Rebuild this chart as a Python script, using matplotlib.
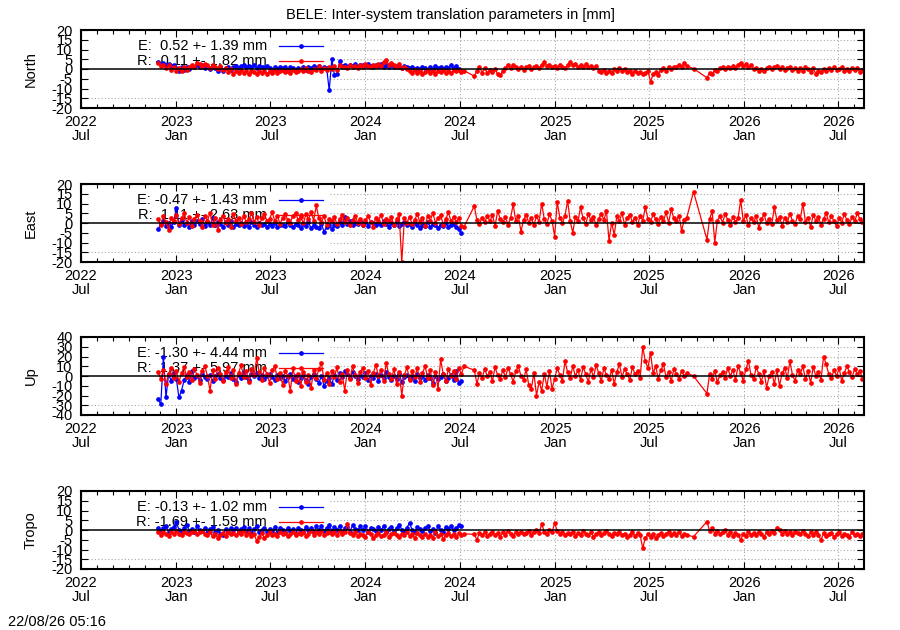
import numpy as np
import matplotlib
matplotlib.use("Agg")
import matplotlib.pyplot as plt
import matplotlib.dates as mdates

plt.rcParams['font.family'] = ['Liberation Sans', 'DejaVu Sans']
plt.rcParams['font.size'] = 10.5
plt.rcParams['axes.unicode_minus'] = False

# sampling step of the series (days)
STEP = 5
e_start = "2022-11-27"
# red series: continuous blocks, then a lone point and the last block
r_starts = ["2022-11-27", "2024-07-29", "2025-09-25", "2025-10-21"]

panel_names = ["North", "East", "Up", "Tropo"]
e_stats = ["E:  0.52 +- 1.39 mm", "E: -0.47 +- 1.43 mm", "E: -1.30 +- 4.44 mm", "E: -0.13 +- 1.02 mm"]
r_stats = ["R: -0.11 +- 1.82 mm", "R:  1.11 +- 2.63 mm", "R:  1.37 +- 5.97 mm", "R: -1.69 +- 1.59 mm"]
y_limits = [20, 20, 40, 20]
y_steps = [5, 5, 10, 5]

tick_dates = ["2022-07-01", "2023-01-01", "2023-07-01", "2024-01-01", "2024-07-01",
              "2025-01-01", "2025-07-01", "2026-01-01", "2026-07-01"]
tick_labels = ["2022\nJul", "2023\nJan", "2023\nJul", "2024\nJan", "2024\nJul",
               "2025\nJan", "2025\nJul", "2026\nJan", "2026\nJul"]
x_range = ["2022-07-01", "2026-08-20"]

north_e = [
    3.5, 2.5, 3.0, 2.0, 2.8, 1.5, 2.2, 0.5, -1.2, 0.8, -0.5, 1.0,
    0.2, 1.5, 0.8, 1.8, 1.2, 2.0, 0.6, 1.4, 0.2, 1.0, 0.5, -0.8,
    0.9, -1.0, 0.3, 1.2, -0.5, 0.8, 1.5, 0.7, 1.3, 1.8, 0.9, 1.6,
    1.1, 1.9, 0.6, 1.4, 1.0, 0.8, 1.5, 0.4, -1.6, 0.9, 0.2, 1.1,
    0.5, 0.8, -0.3, 1.0, 0.3, -0.6, 0.7, 0.1, 1.2, -0.4, 0.9, 0.4,
    1.3, 0.6, 1.5, 0.2, 1.0, 0.7, -11.0, 5.0, -3.0, -2.6, 4.0, 1.5,
    2.2, 1.0, 2.0, 1.4, 2.5, 0.8, 1.8, 2.2, 1.3, 2.8, 1.6, 0.9,
    2.0, 1.5, 2.4, 1.0, 1.8, 1.2, 2.6, 0.8, 1.6, 1.1, 0.5, 1.4,
    0.9, 0.3, 1.0, -0.2, 0.6, 0.2, 1.1, 0.5, -0.4, 0.8, 0.1, 1.5,
    0.4, 0.9, 0.2, 1.2, 0.6, 1.8, 0.3, 1.6, 0.2, -0.8,
]
north_r = [
    [3.0, 1.5, 2.2, 0.5, 1.8, -0.5, 1.2, -0.8, 0.5, -1.2, 0.8, -0.3,
     1.0, 2.0, 1.2, 3.2, 2.5, 1.0, 2.8, 1.8, 0.5, 2.2, 1.0, 0.2,
     1.5, -0.5, 0.3, -1.5, -0.2, -2.5, -0.8, -1.8, -0.6, -2.2, -1.2, -2.8,
     -1.0, -1.5, -2.5, -0.8, -2.0, -1.2, -2.6, -1.0, -1.8, -0.5, -2.0, -1.2,
     -0.6, -1.6, -0.8, -2.2, -0.4, -1.4, -0.9, -0.2, -1.2, 0.4, -0.8, -1.6,
     0.2, -0.5, 1.5, -0.8, 0.6, -0.3, 1.0, 0.2, 1.4, -0.4, 1.8, 0.8,
     1.2, 0.6, 2.0, 1.0, 1.6, 0.4, 2.2, 1.2, 2.6, 1.5, 0.8, 2.0,
     1.4, 2.8, 1.6, 3.5, 4.5, 2.2, 3.0, 1.8, 1.0, 2.4, 0.6, 1.2,
     0.2, -0.8, -1.8, -0.4, -2.2, -1.0, -2.6, -1.5, -0.6, -2.0, -1.2, -2.4,
     -0.9, -1.6, -0.4, -2.2, -1.0, -1.8, -0.6, -1.2, -0.3, -1.6, -0.8],
    [-3.7, -1.0, 0.8, -1.8, 0.5, -2.2, -0.6, -1.5, 0.2, -2.8, -3.2, -1.0,
     0.4, 1.8, 0.6, 2.2, 1.0, 0.2, 1.2, -0.3, 0.8, 1.5, 0.0, 1.0,
     1.6, 0.6, 2.2, 3.6, 1.4, 2.0, 0.8, 1.6, 0.4, 2.0, 1.2, 0.6,
     2.2, 3.6, 1.8, 2.6, 1.0, 2.0, 1.2, 2.4, 0.8, 1.6, 0.6, 1.4,
     -0.8, -1.6, -0.4, -2.0, -1.0, -1.8, -0.2, -1.2, 0.4, -0.8, 0.2, -1.4,
     -1.2, -2.4, -0.8, -2.0, -1.5, -2.6, -2.0, -1.0, -6.5, -2.8, -1.6, -3.0,
     -0.4, 0.6, -0.8, 1.0, 0.2, 1.2, 0.8, 2.0, 1.2, 3.0, 1.6],
    [0.2],
    [-4.5, -1.8, -2.6, -0.6, -1.2, 0.4, 0.8, -0.2, 1.2, 0.4, 1.6, 0.6,
     2.2, 3.3, 1.6, 2.6, 0.8, 1.8, -0.2, 0.6, -0.8, 0.2, -1.0, 0.4,
     1.0, -0.2, 0.8, 1.4, 0.2, 0.9, -0.6, 0.4, 1.2, -0.4, 0.6, -1.0,
     0.3, -0.8, 1.0, -0.2, -1.4, 0.5, -2.5, -0.8, -1.6, -0.2, -1.2, 0.4,
     -0.6, 0.8, -0.4, 0.2, 1.0, -0.8, 0.0, -1.2, 0.4, -0.6, 0.6, -1.4,
     -0.5],
]

east_e = [
    -3.0, -0.5, 1.0, -1.5, 0.2, -2.0, 0.5, 7.5, -0.8, 1.5, -1.2, 0.0,
    -2.0, 0.8, -1.0, 1.2, -0.5, 2.0, -1.5, 0.5, -0.8, 2.5, -1.2, 0.3,
    -0.6, -1.8, 0.4, -1.0, 0.8, -2.2, -0.3, -1.2, 0.2, -1.6, -0.4, -2.0,
    0.6, -0.8, -1.8, 0.0, -1.2, -0.6, -2.0, -0.5, -1.4, 0.2, -2.2, -0.8,
    -1.0, -1.6, 0.3, -1.0, -2.0, -0.4, -1.2, -2.4, -0.6, -1.5, 0.4, -2.8,
    -1.0, -1.8, -2.6, -0.5, -4.5, -2.0, -1.2, -3.0, -0.8, -1.6, 0.5, -1.0,
    3.0, -0.4, 0.8, -1.2, 0.2, -0.6, 1.0, -0.8, 0.4, -1.4, 0.6, -0.2,
    -1.0, 0.2, -1.2, 0.8, -0.6, -1.8, 0.0, -1.0, 0.6, -1.6, -0.4, 0.4,
    -1.2, -0.6, -2.0, 0.2, -1.0, -2.4, -0.8, -1.4, 0.4, -2.2, -0.6, -1.0,
    -2.6, -0.8, -1.6, 0.0, -2.0, -1.2, -0.4, -2.2, -3.0, -5.3,
]
east_r = [
    [2.0, -1.0, 3.5, 0.5, -3.5, 2.8, 1.0, 4.0, -0.5, 2.5, 5.0, 0.2,
     3.0, -1.5, 2.2, 4.2, 0.8, -2.0, 3.5, 1.2, 5.2, -0.8, 2.6, -3.5,
     1.5, 3.8, 0.0, 2.0, -1.8, 4.5, 1.0, 2.8, -0.6, 3.6, 0.4, 1.8,
     5.0, 0.6, 3.2, -1.0, 2.4, 4.8, 0.8, 2.2, 5.5, 1.0, 3.4, -0.4,
     2.6, 4.6, 1.4, 0.2, 3.8, 5.2, 1.6, 3.0, -0.2, 4.4, 2.0, 5.6,
     1.2, 9.0, 2.4, 0.6, 3.6, -1.2, 2.0, 0.8, 3.2, -0.6, 1.8, 4.0,
     0.4, 2.6, -0.8, 1.4, 3.8, 0.2, 2.2, -1.0, 1.6, 3.4, 0.6, -1.8,
     2.8, 1.0, 4.2, -0.4, 2.0, 0.8, 3.0, -1.2, 1.8, 4.4, -20.0, 2.4,
     0.2, 3.2, -0.6, 1.6, 4.6, 0.4, 2.8, -1.4, 3.6, 1.2, 5.2, 0.0,
     2.4, 4.0, -0.8, 2.2, 5.4, 1.0, 3.0, 0.6, 2.6, -1.6, -2.0],
    [8.7, 1.5, -0.5, 2.8, 0.4, 3.5, 1.0, 4.0, -1.5, 6.0, 2.2, 0.5,
     3.0, -0.8, 2.5, 9.6, 1.0, 3.8, -4.5, 1.6, 4.2, 0.2, 2.6, -1.0,
     3.4, 0.6, 10.0, 2.0, -0.5, 4.4, 1.2, -7.0, 11.0, 2.8, 0.0, 3.6,
     11.5, 1.0, -5.0, 3.2, 0.8, 8.0, 2.4, -0.6, 4.6, 1.4, 3.0, -1.2,
     2.0, 4.8, 1.6, 6.0, -9.0, 0.2, -6.0, 3.4, 1.0, 5.0, -0.8, 2.6,
     4.2, 0.6, 2.8, -1.0, 3.6, 1.2, 8.0, 2.2, 0.4, 4.6, 1.8, -0.4,
     3.2, 1.0, 5.4, 0.2, 7.0, 2.4, 0.8, 3.8, -4.0, 1.6, 2.8],
    [16.0],
    [-8.5, 2.0, 6.0, -10.0, 1.2, 3.4, 0.2, 4.6, 1.6, -0.8, 3.0, 0.6,
     2.4, 12.0, 1.0, 4.0, -1.2, 2.6, 0.4, 3.6, -2.4, 1.8, 4.4, 0.0,
     2.2, -0.6, 8.0, 1.4, 3.2, -1.6, 2.8, 0.4, 4.8, 1.0, -0.4, 3.6,
     1.8, 10.0, 0.6, 2.6, -2.0, 4.2, 1.2, 3.0, -0.8, 2.2, 5.0, 0.4,
     3.4, 1.0, -1.6, 2.8, 0.2, 4.6, 1.6, -0.6, 3.2, 0.8, 5.0, 2.0,
     0.6],
]

up_e = [
    -24.0, -29.0, 20.0, -22.0, 2.0, -5.0, 3.0, -3.0, -22.0, -15.0, -4.0, 1.0,
    -6.0, 5.0, -2.0, 0.5, -4.5, 2.0, -1.0, -3.5, 1.5, -5.0, -0.5, 2.5,
    -2.0, -4.0, 0.0, -1.5, 3.0, -3.0, -6.0, 1.0, -2.5, 4.0, -1.0, -4.5,
    2.0, -0.5, 3.5, -2.0, 1.0, -3.5, 0.5, 2.5, -1.5, -4.0, 1.5, -2.5,
    0.0, -5.0, -1.0, 2.0, -3.0, 0.5, -6.5, -2.0, 1.0, -4.5, -8.0, -1.5,
    2.5, -3.5, -7.0, 0.0, -10.0, -5.0, -2.0, -8.5, 1.0, -4.0, 3.0, -1.0,
    5.0, 2.0, -2.5, 4.5, 0.0, -3.0, 1.5, -1.5, 3.0, -4.0, 0.5, -2.0,
    2.5, -5.0, 1.0, -2.5, 4.0, -1.0, -4.5, 0.5, -3.0, 2.0, -6.0, -1.5,
    1.0, -3.5, -0.5, -5.5, 2.0, -2.0, 0.0, -4.0, 1.5, -2.5, -7.0, 0.5,
    -3.0, -1.0, 2.5, -5.0, -2.0, 1.0, -4.0, 5.0, -7.0, -5.0,
]
up_r = [
    [4.0, -3.0, 6.0, -8.0, 2.0, 8.0, -2.0, 5.0, -6.0, 3.0, 9.0, -1.0,
     4.0, -4.0, 7.0, 1.0, -7.0, 5.0, 10.0, 0.0, -15.0, 6.0, -3.0, 8.0,
     2.0, -5.0, 4.0, 9.0, -2.0, 6.0, -8.0, 3.0, 11.0, -1.0, 5.0, -6.0,
     7.0, 1.0, 18.0, 4.0, -4.0, 8.0, 2.0, -7.0, 6.0, 10.0, -3.0, 3.0,
     -9.0, 5.0, 0.0, -15.0, 8.0, -5.0, 2.0, -10.0, 4.0, -6.0, 1.0, -12.0,
     6.0, -2.0, 7.0, 13.0, -4.0, 3.0, -8.0, 5.0, -1.0, 9.0, -6.0, 2.0,
     -15.0, 6.0, -3.0, 10.0, 1.0, -7.0, 4.0, 8.0, -2.0, 5.0, -9.0, 3.0,
     11.0, 0.0, 6.0, -5.0, 13.0, 2.0, -3.0, 7.0, -8.0, 4.0, -20.0, 1.0,
     9.0, -4.0, 5.0, -1.0, 8.0, -6.0, 3.0, 10.0, -2.0, 6.0, -9.0, 4.0,
     -13.0, 17.0, 2.0, -5.0, 7.0, 0.0, 5.0, -3.0, 8.0, 2.0, 10.0],
    [6.0, -8.0, 3.0, -2.0, 7.0, 0.0, 4.0, -5.0, 9.0, 1.0, -3.0, 6.0,
     -1.0, 8.0, 2.0, -6.0, 5.0, 10.0, 0.0, -4.0, 7.0, -9.0, -13.0, 3.0,
     -20.0, -6.0, -15.0, 2.0, -11.0, 5.0, -13.0, -3.0, 8.0, 1.0, -5.0, 15.0,
     4.0, -2.0, 10.0, 0.0, 6.0, -4.0, 9.0, 2.0, -6.0, 7.0, -1.0, 11.0,
     3.0, -5.0, 8.0, 1.0, -3.0, 6.0, -8.0, 4.0, 12.0, -1.0, 7.0, 2.0,
     -4.0, 9.0, 2.0, 5.0, -2.0, 30.0, 15.0, 8.0, 24.0, 3.0, 10.0, -3.0,
     6.0, 12.0, -1.0, 4.0, -5.0, 7.0, 2.0, -3.0, 5.0, 0.0, 3.0],
    [0.0],
    [-18.0, 2.0, -3.0, 5.0, -6.0, 1.0, 4.0, -2.0, 8.0, 0.0, 6.0, -4.0,
     10.0, 3.0, -5.0, 7.0, 15.0, 1.0, -3.0, 9.0, 2.0, -6.0, 5.0, -12.0,
     0.0, 4.0, -8.0, 6.0, -10.0, 3.0, 8.0, -2.0, 15.0, 1.0, -5.0, 6.0,
     2.0, 10.0, -3.0, 5.0, -7.0, 9.0, 0.0, 4.0, -4.0, 20.0, 12.0, 2.0,
     -2.0, 6.0, 0.0, 8.0, -5.0, 3.0, 10.0, 4.0, -1.0, 7.0, 2.0, 5.0,
     -3.0],
]

tropo_e = [
    1.0, -0.5, 0.8, 2.0, -1.0, 0.5, 1.5, 4.0, 0.2, -0.8, 1.2, 2.5,
    -0.4, 0.6, -1.2, 1.8, 0.0, -0.6, 1.0, -1.5, 0.4, 1.4, -0.8, 0.2,
    -2.0, -2.5, 0.5, -1.0, 1.2, -0.2, 0.8, -1.2, 0.3, 1.6, -0.6, 0.9,
    -1.4, 0.6, 2.0, -0.8, 0.2, 1.0, -1.0, 0.4, -0.6, 1.4, -1.6, 0.8,
    0.0, -1.0, 1.2, -0.4, 0.6, -1.8, 1.0, 0.2, -1.2, 1.6, -0.2, 0.8,
    -1.0, 1.8, 0.0, 2.2, -0.6, 1.0, 2.6, -0.4, 1.4, 0.2, 2.0, -1.0,
    0.8, 1.6, -0.8, 2.4, 0.4, -0.2, 1.8, 0.0, 2.2, -1.0, 1.0, 0.4,
    -0.6, 1.4, -0.2, 2.0, -1.2, 0.6, 1.6, -0.4, 0.8, 2.6, 0.2, -0.8,
    1.2, 3.7, 0.0, -1.0, 1.4, 0.4, -0.6, 1.0, 2.2, -0.4, 0.6, -1.4,
    1.8, 0.2, -0.8, 1.6, 0.4, 2.0, -0.2, 1.0, 2.4, 2.0,
]
tropo_r = [
    [-1.0, -2.8, -0.8, -2.0, -3.0, -1.2, -2.2, -0.6, -1.8, -2.6, -0.8, -1.4,
     -2.2, -1.0, -0.4, -2.0, -1.2, -0.6, -1.8, -2.4, -1.0, -3.2, -2.0, -4.0,
     -2.6, -1.4, -3.0, -0.8, -2.2, -1.6, -2.8, -1.2, -2.0, -0.6, -2.6, -1.4,
     -3.0, -2.0, -5.6, -3.4, -1.6, -4.2, -2.4, -1.0, -2.8, -1.8, -3.2, -0.8,
     -2.2, -1.6, -3.0, -2.0, -0.8, -2.6, -1.4, -2.2, -1.0, -3.0, -1.8, -0.6,
     -2.4, -1.2, -2.0, -0.4, -2.6, -1.6, -0.8, -2.2, -1.0, -2.8, -0.6, -1.8,
     -1.2, 3.0, -1.6, -2.4, -0.8, -3.0, -1.8, -2.6, -3.4, -1.2, -2.2, -4.0,
     -2.8, -1.6, -3.2, -2.4, -0.8, -3.6, -2.0, -1.4, -2.8, -3.8, -1.8, -2.6,
     -1.0, -3.0, -2.2, -4.2, -1.6, -2.8, -3.4, -1.8, -3.6, -2.4, -4.0, -1.2,
     -3.0, -2.0, -4.4, -2.6, -1.4, -3.2, -2.2, -3.8, -1.6, -2.6, -2.0],
    [-2.2, -5.0, -1.4, -2.8, -1.0, -3.2, -2.0, -0.8, -2.6, -1.6, -3.4, -1.2,
     -2.4, -0.6, -1.8, -3.0, -1.2, -2.2, -0.8, -2.0, -1.4, -0.4, -2.6, -1.0,
     0.2, -1.6, 3.0, -0.8, -1.8, -0.2, -1.2, 3.7, -0.6, -2.0, -1.0, -2.6,
     -1.4, -2.2, -0.8, -3.0, -1.6, -2.4, -0.6, -1.8, -2.8, -1.2, -3.4, -2.0,
     -1.0, -2.6, -1.6, -0.4, -2.2, -3.2, -1.4, -2.0, -0.8, -2.8, -1.8, -3.6,
     -2.4, -1.2, -3.0, -1.6, -2.6, -9.4, -4.0, -2.2, -3.4, -1.8, -4.2, -2.6,
     -1.6, -3.0, -2.0, -0.8, -2.8, -1.4, -2.4, -1.0, -3.2, -1.8, -2.6],
    [-3.4],
    [4.3, -0.6, 1.0, -1.8, -0.4, -2.2, -1.0, 0.0, -2.4, -1.2, -3.0, -1.6,
     -2.6, -5.0, -1.8, -3.2, -1.0, -2.4, -1.4, -2.8, -0.8, -2.0, -3.4, -1.2,
     -2.2, -0.6, -1.6, 1.0, -0.2, -1.8, -0.4, -2.0, -1.0, -2.6, -0.8, -1.4,
     -2.2, -0.6, -1.8, -3.0, -1.2, -2.4, -1.0, -2.8, -5.0, -1.6, -3.2, -2.0,
     -1.4, -3.6, -2.2, -1.0, -3.0, -1.8, -2.6, -3.4, -1.2, -2.8, -2.0, -3.0,
     -2.2],
]

e_series = [north_e, east_e, up_e, tropo_e]
r_series = [north_r, east_r, up_r, tropo_r]


def make_dates(start, n):
    d = np.datetime64(start) + np.arange(n) * np.timedelta64(STEP, 'D')
    return mdates.date2num(d)


W, H = 900, 630
fig = plt.figure(figsize=(W / 100, H / 100), dpi=100)
tops = [30, 184, 337, 491]
ax_left, ax_w, ax_h = 81, 783, 78

xmin, xmax = mdates.date2num(np.array(x_range, dtype='datetime64[D]'))
major = mdates.date2num(np.array(tick_dates, dtype='datetime64[D]'))
key_right = 0.318   # the key area hides the grid left of this
key_bottom = 0.18
ms = 3.4

for i, name in enumerate(panel_names):
    top = tops[i]
    ax = fig.add_axes([ax_left / W, 1 - (top + ax_h) / H, ax_w / W, ax_h / H])
    lim = y_limits[i]
    ax.set_xlim(xmin, xmax)
    ax.set_ylim(-lim, lim)

    # grid, by hand so the key area stays clear
    for d in major:
        if (d - xmin) / (xmax - xmin) > key_right:
            ax.axvline(d, color='#a8a8a8', lw=0.8, ls=(0, (1, 2)), zorder=0.5)
    levels = np.arange(-lim + y_steps[i], lim, y_steps[i])
    for lv in levels:
        if lv == 0:
            continue
        frac = (lv + lim) / (2 * lim)
        x0 = key_right if frac > key_bottom else 0
        ax.axhline(lv, xmin=x0, color='#a8a8a8', lw=0.8, ls=(0, (1, 2)), zorder=0.5)

    # data
    ed = make_dates(e_start, len(e_series[i]))
    ax.plot(ed, e_series[i], '-o', color='#0000ff', lw=0.9, ms=ms, mew=0, zorder=2)
    rd = np.concatenate([make_dates(s, len(v)) for s, v in zip(r_starts, r_series[i])])
    rv = np.concatenate(r_series[i])
    ax.plot(rd, rv, '-o', color='#ff0000', lw=0.9, ms=ms, mew=0, zorder=2.1)
    ax.axhline(0, color='black', lw=1.1, zorder=3)

    # key
    ax.text(0.2375, 0.795, e_stats[i], transform=ax.transAxes, ha='right', va='center', zorder=1.5)
    ax.text(0.2375, 0.603, r_stats[i], transform=ax.transAxes, ha='right', va='center', zorder=1.5)
    ax.plot([0.253, 0.309], [0.795, 0.795], color='#0000ff', lw=0.9, transform=ax.transAxes, zorder=1.5)
    ax.plot([0.281], [0.795], 'o', color='#0000ff', ms=ms, mew=0, transform=ax.transAxes, zorder=1.5)
    ax.plot([0.253, 0.309], [0.603, 0.603], color='#ff0000', lw=0.9, transform=ax.transAxes, zorder=1.5)
    ax.plot([0.281], [0.603], 'o', color='#ff0000', ms=ms, mew=0, transform=ax.transAxes, zorder=1.5)

    # axes
    ax.set_yticks(np.arange(-lim, lim + 1, y_steps[i]))
    ax.set_xticks(major)
    ax.set_xticklabels(tick_labels)
    for t in ax.get_xticklabels():
        t.set_linespacing(1.0)
    ax.xaxis.set_minor_locator(mdates.MonthLocator())
    ax.tick_params(which='both', direction='in', top=True, right=True, width=0.8)
    ax.tick_params(which='major', length=5, pad=5)
    ax.tick_params(which='minor', length=3)
    ax.tick_params(axis='y', pad=6)
    for sp in ax.spines.values():
        sp.set_linewidth(1.5)

    fig.text(31 / W, 1 - (top + ax_h / 2) / H, name, rotation=90, ha='center', va='center')

fig.text(0.5, 1 - 15 / H, "BELE: Inter-system translation parameters in [mm]", ha='center', va='center')
fig.text(8 / W, 1 - 622 / H, "22/08/26 05:16", ha='left', va='center')

fig.savefig("out.png", dpi=100)
